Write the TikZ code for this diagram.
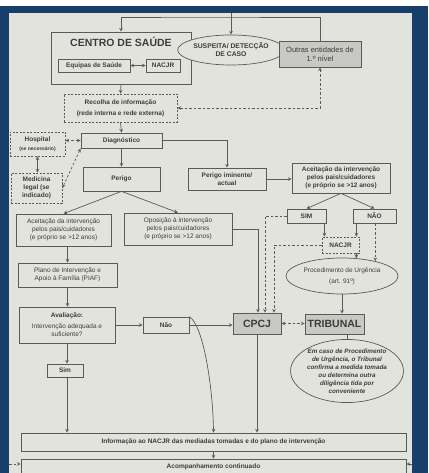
\documentclass[tikz,border=0pt]{standalone}
\usepackage{fontspec}
\setmainfont{Liberation Sans}
\usetikzlibrary{shapes.geometric}

\definecolor{paper}{HTML}{E3E3DE}
\definecolor{frame}{HTML}{183E6B}
\definecolor{ink}{HTML}{5A5A5A}
\definecolor{txt}{HTML}{3C3C3C}
\definecolor{shade}{HTML}{C8C8C4}

\newcommand{\boxfont}{\fontsize{6.5}{8}\selectfont}
\newcommand{\tinyfont}{\fontsize{5}{6}\selectfont}
\newcommand{\bigfont}{\fontsize{10.5}{12}\selectfont\bfseries}

\begin{document}
\begin{tikzpicture}[x=1pt, y=-1pt, >=stealth,
  box/.style={draw=ink, line width=0.7pt, fill=paper, inner sep=1pt, align=center, text=txt, font=\boxfont},
  dbox/.style={box, dash pattern=on 2pt off 1.5pt},
  gbox/.style={box, fill=shade},
  oval/.style={ellipse, draw=ink, line width=0.7pt, fill=paper, inner sep=0pt, align=center, text=txt, font=\boxfont},
  link/.style={draw=ink, line width=0.7pt},
  dlink/.style={link, dash pattern=on 2.5pt off 2pt}]

  % frame and paper
  \clip (0,0) rectangle (428,473);
  \fill[white] (0,0) rectangle (428,473);
  \fill[frame] (0,6) rectangle (428,473);
  \fill[paper] (9,13) rectangle (412,473);

  % top block
  \node[box, minimum width=140pt, minimum height=52pt] (centro) at (121,58) {};
  \node[font=\bigfont, text=txt] (titulo) at (121,42) {CENTRO DE SAÚDE};
  \node[box, font=\boxfont\bfseries, minimum width=72pt, minimum height=13pt] (equipas) at (94,65.5) {Equipas de Saúde};
  \node[box, font=\boxfont\bfseries, minimum width=34pt, minimum height=13pt] (nacjra) at (163,65.5) {NACJR};
  \node[oval, font=\fontsize{6.8}{8}\selectfont\bfseries, minimum width=100pt, minimum height=30pt] (susp) at (231,50) {SUSPEITA/ DETECÇÃO\\DE CASO};
  \node[gbox, font=\fontsize{7.5}{9}\selectfont, minimum width=82pt, minimum height=26pt] (outras) at (320,54) {Outras entidades de\\1.º nível};
  \coordinate (topin) at (231,13);
  \coordinate (toprow) at (200,17);

  \node[dbox, font=\boxfont\bfseries, minimum width=113pt, minimum height=28pt] (recolha) at (120.5,108) {Recolha de informação\\[3pt](rede interna e rede externa)};
  \node[box, font=\boxfont\bfseries, minimum width=81pt, minimum height=15pt] (diag) at (121.5,140.5) {Diagnóstico};
  \node[dbox, font=\boxfont\bfseries, minimum width=55pt, minimum height=24pt] (hosp) at (37.5,144) {Hospital\\[1pt]{\tinyfont (se necessário)}};
  \node[dbox, font=\boxfont\bfseries, minimum width=51pt, minimum height=30pt] (medleg) at (36.5,188) {Medicina\\legal (se\\indicado)};

  % perigo
  \node[box, font=\boxfont\bfseries, minimum width=77pt, minimum height=24pt] (perigo) at (121.5,179) {Perigo};
  \node[box, font=\boxfont\bfseries, minimum width=78pt, minimum height=22pt] (periim) at (227,179) {Perigo iminente/\\actual};
  \node[box, font=\boxfont\bfseries, minimum width=98pt, minimum height=30pt] (aceitr) at (341,178) {Aceitação da intervenção\\pelos pais/cuidadores\\(e próprio se >12 anos)};
  \node[box, font=\boxfont\bfseries, minimum width=39pt, minimum height=14pt] (sim) at (306.5,216) {SIM};
  \node[box, font=\boxfont\bfseries, minimum width=43pt, minimum height=14pt] (nao) at (374.5,216) {NÃO};
  \node[dbox, font=\boxfont\bfseries, minimum width=37pt, minimum height=16pt] (nacjrb) at (340.5,245) {NACJR};
  \node[oval, minimum width=112pt, minimum height=36pt] (proc) at (342,276) {Procedimento de Urgência\\[3pt](art. 91º)};

  \node[box, minimum width=95pt, minimum height=32pt] (aceitl) at (63.5,230) {Aceitação da intervenção\\pelos pais/cuidadores\\(e próprio se >12 anos)};
  \node[box, minimum width=108pt, minimum height=32pt] (opos) at (178,229) {Oposição à intervenção\\pelos pais/cuidadores\\(e próprio se >12 anos)};
  \node[box, minimum width=99pt, minimum height=24pt] (piaf) at (67.5,275) {Plano de Intervenção e\\Apoio à Família (PIAF)};
  \node[box, minimum width=96pt, minimum height=36pt] (aval) at (67,325) {\bfseries Avaliação:\\[3pt]Intervenção adequada e\\suficiente?};
  \node[box, font=\boxfont\bfseries, minimum width=46pt, minimum height=16pt] (naol) at (166,325) {Não};
  \node[box, font=\boxfont\bfseries, minimum width=36pt, minimum height=13pt] (siml) at (65,370.5) {Sim};

  \node[gbox, font=\bigfont, minimum width=48pt, minimum height=21pt] (cpcj) at (257,323.5) {CPCJ};
  \node[gbox, font=\bigfont, minimum width=59pt, minimum height=20pt] (trib) at (334.5,324) {TRIBUNAL};
  \node[oval, font=\fontsize{6.3}{8}\selectfont\bfseries\itshape, minimum width=108pt, minimum height=58pt] (emcaso) at (347,371) {Em caso de Procedimento\\de Urgência, o Tribunal\\confirma a medida tomada\\ou determina outra\\diligência tida por\\conveniente};

  % bottom
  \node[box, font=\boxfont\bfseries, minimum width=385pt, minimum height=18pt] (info) at (213.5,442) {Informação ao NACJR das mediadas tomadas e do plano de intervenção};
  \node[box, font=\boxfont\bfseries, minimum width=385pt, minimum height=16pt] (acomp) at (213.5,467) {Acompanhamento continuado};
  \coordinate (leftin) at (9,464);
  \coordinate (rightin) at (412,464);

  % connectors
  \draw[link,->] (topin) -- (susp.north);
  \draw[link,->] (outras.north) |- (toprow) -| (centro.north);
  \draw[link,<->] (equipas) -- (nacjra);
  \draw[link,->] (centro.south) -- (recolha.north);
  \draw[dlink,<->] (outras.south) |- (recolha.east);
  \draw[link,->] (recolha.south) -- (diag.north);
  \draw[dlink,<->] (diag.west) -- (diag.west -| hosp.east);
  \draw[dlink,<->] (diag.south west) -- (medleg.east);
  \draw[link,<->] (hosp.south) -- (hosp.south |- medleg.north);
  \draw[link,->] (diag.south) -- (perigo.north);
  \draw[link,->] (diag.east) -| (periim.north);
  \draw[link,->] (periim.east) -- (periim.east -| aceitr.west);
  \draw[link,->] (aceitr.south) -- (sim.north);
  \draw[link,->] (aceitr.south) -- (nao.north);
  \draw[link,->] (sim.south east) ++(-2,0) coordinate (s1) -- (s1 |- nacjrb.north);
  \draw[link,->] (nao.south -| proc.51) -- (nacjrb.north -| proc.51);
  \draw[link,->] (nacjrb.south -| proc.51) -- (proc.51);
  \draw[dlink,->] (nao.south -| proc.24) -- (proc.24);
  \draw[dlink,->] (sim.west) -| ([xshift=8pt]cpcj.north);
  \draw[dlink,->] (nacjrb.west) -| ([xshift=17pt]cpcj.north);
  \draw[link,->] (opos.east) -| ([xshift=1pt]cpcj.north);
  \draw[link,->] (proc.south) -- (proc.south |- trib.north);
  \draw[link] (trib.south -| emcaso.north) -- (emcaso.north);
  \draw[dlink,<->] (cpcj.east) -- (cpcj.east -| trib.west);

  \draw[link,->] (perigo.south) -- (aceitl.north);
  \draw[link,->] (perigo.south) -- (opos.north);
  \draw[link,->] (piaf.north |- aceitl.south) -- (piaf.north);
  \draw[link,->] (piaf.south) -- (piaf.south |- aval.north);
  \draw[link,->] (aval.south) -- (aval.south |- siml.north);
  \draw[link,->] (aval.south |- siml.south) -- (aval.south |- info.north);
  \draw[link,->] (aval.east) -- (naol.west);
  \draw[link,->] (naol.east) -- (naol.east -| cpcj.west);
  \draw[link,->] (naol.north east) .. controls (204,326) and (213,390) .. (info.north);
  \draw[link,->] (cpcj.south) -- (cpcj.south |- info.north);
  \draw[link,->] (info.south) -- (acomp.north);
  \draw[dlink,->] (leftin) -- (leftin -| acomp.west);
  \draw[link,->] (rightin) -- (rightin -| acomp.east);
\end{tikzpicture}
\end{document}
